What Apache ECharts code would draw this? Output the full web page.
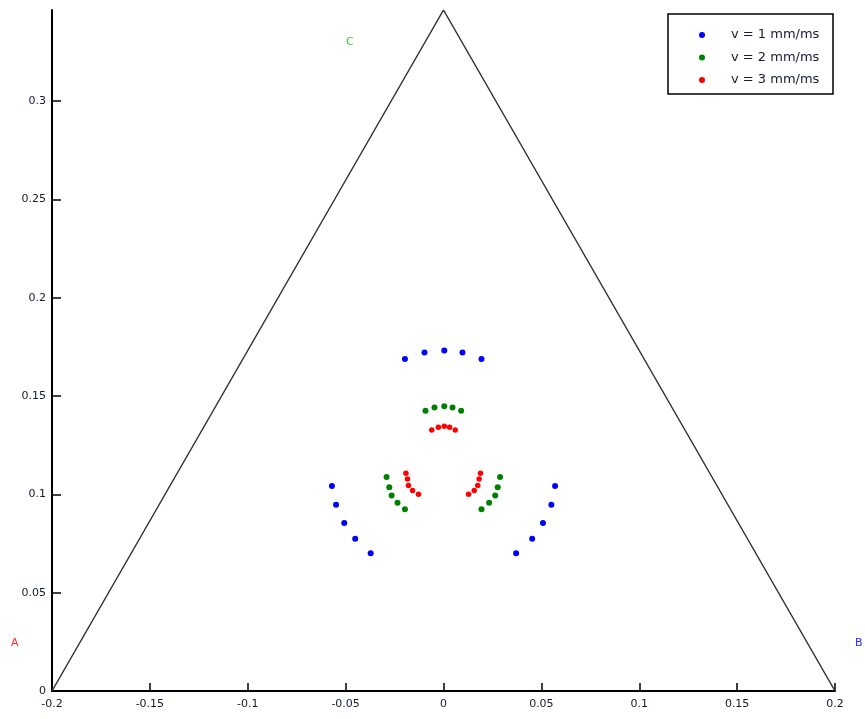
<!DOCTYPE html>
<html>
<head>
<meta charset="utf-8">
<script src="https://cdn.jsdelivr.net/npm/echarts@6/dist/echarts.min.js"></script>
<style>html,body{margin:0;padding:0;background:#fff}#c{width:865px;height:719px}</style>
</head>
<body>
<div id="c"></div>
<script>
// Triangle vertices
const triX = [-0.2, 0, 0.2];
const triY = [0, 0.3464, 0];

// v = 1 mm/ms (blue)
const v1X = [-0.0197, -0.0097, 0.0004, 0.0097, 0.0194,
             -0.057, -0.0549, -0.0507, -0.0451, -0.0372,
              0.057, 0.0551, 0.0508, 0.0453, 0.0371];
const v1Y = [0.1689, 0.1722, 0.1732, 0.1722, 0.1689,
             0.1043, 0.0947, 0.0854, 0.0775, 0.0701,
             0.1043, 0.0947, 0.0854, 0.0775, 0.0701];

// v = 2 mm/ms (green)
const v2X = [-0.0092, -0.0046, 0.0004, 0.0046, 0.009,
             -0.0291, -0.0277, -0.0265, -0.0235, -0.0197,
              0.0289, 0.0277, 0.0264, 0.0233, 0.0194];
const v2Y = [0.1425, 0.1442, 0.1449, 0.1442, 0.1425,
             0.1088, 0.1037, 0.0994, 0.0957, 0.0925,
             0.1088, 0.1037, 0.0994, 0.0957, 0.0925];

// v = 3 mm/ms (red)
const v3X = [-0.006, -0.0026, 0.0004, 0.0031, 0.006,
             -0.0192, -0.0184, -0.0179, -0.0158, -0.0128,
              0.0189, 0.0182, 0.0175, 0.0157, 0.0128];
const v3Y = [0.1328, 0.1342, 0.1347, 0.1342, 0.1328,
             0.1108, 0.1078, 0.1045, 0.102, 0.1001,
             0.1108, 0.1078, 0.1045, 0.102, 0.1001];

const seriesNames = ['v = 1 mm/ms', 'v = 2 mm/ms', 'v = 3 mm/ms'];
const yTicks = [0, 0.05, 0.1, 0.15, 0.2, 0.25, 0.3];

const zip = (xs, ys) => xs.map((x, i) => [x, ys[i]]);
const labelColor = '#141a33';
const fontFam = 'DejaVu Sans, Verdana, sans-serif';

const chart = echarts.init(document.getElementById('c'));
chart.setOption({
  animation: false,
  backgroundColor: '#fff',
  grid: { left: 52, right: 30, top: 10, bottom: 28 },
  xAxis: {
    type: 'value', min: -0.2, max: 0.2, interval: 0.05,
    splitLine: { show: false },
    axisLine: { onZero: false, lineStyle: { color: '#000', width: 2 } },
    axisTick: { inside: true, length: 8, lineStyle: { color: '#000', width: 1.5 } },
    axisLabel: { color: labelColor, fontSize: 11, fontFamily: fontFam, margin: 8 }
  },
  yAxis: {
    type: 'value', min: 0, max: 0.3464,
    splitLine: { show: false },
    axisLine: { onZero: false, lineStyle: { color: '#000', width: 2 } },
    axisTick: { inside: true, length: 9, customValues: yTicks, lineStyle: { color: '#000', width: 1.5 } },
    axisLabel: { color: labelColor, fontSize: 11, fontFamily: fontFam, margin: 6, customValues: yTicks }
  },
  legend: {
    data: seriesNames,
    orient: 'vertical',
    left: 699, top: 28,
    padding: 0,
    itemWidth: 48, itemHeight: 6, itemGap: 8.5,
    icon: 'circle',
    textStyle: { color: labelColor, fontSize: 13, fontFamily: fontFam, lineHeight: 14 }
  },
  graphic: [
    { type: 'rect', shape: { x: 668, y: 14, width: 165, height: 80 },
      style: { fill: 'none', stroke: '#000', lineWidth: 1.5 }, z: 100 },
    { type: 'text', x: 11, y: 638, style: { text: 'A', fill: '#ff2a2a', font: '11px ' + fontFam } },
    { type: 'text', x: 855, y: 638, style: { text: 'B', fill: '#2a2aff', font: '11px ' + fontFam } },
    { type: 'text', x: 346, y: 37, style: { text: 'C', fill: '#3ccc3c', font: '11px ' + fontFam } }
  ],
  series: [
    {
      type: 'line', name: 'triangle', data: zip(triX, triY),
      symbol: 'none', silent: true,
      lineStyle: { color: '#333', width: 1.5 }, z: 1
    },
    { type: 'scatter', name: seriesNames[0], data: zip(v1X, v1Y), symbolSize: 6, itemStyle: { color: '#0000ff', opacity: 1 }, z: 3 },
    { type: 'scatter', name: seriesNames[1], data: zip(v2X, v2Y), symbolSize: 6, itemStyle: { color: '#008000', opacity: 1 }, z: 3 },
    { type: 'scatter', name: seriesNames[2], data: zip(v3X, v3Y), symbolSize: 5.5, itemStyle: { color: '#ff0000', opacity: 1 }, z: 3 }
  ]
});
</script>
</body>
</html>
